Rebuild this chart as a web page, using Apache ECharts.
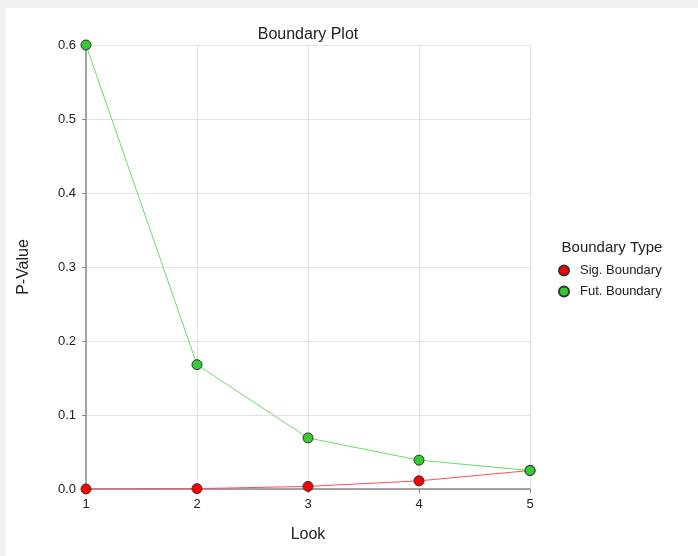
<!DOCTYPE html>
<html>
<head>
<meta charset="utf-8">
<script src="https://cdn.jsdelivr.net/npm/echarts@6/dist/echarts.min.js"></script>
<style>
html,body{margin:0;padding:0;background:#f0f0f0;width:698px;height:556px;overflow:hidden;}
#chart{position:absolute;left:6px;top:8px;width:692px;height:548px;background:#fff;}
</style>
</head>
<body>
<div id="chart"></div>
<script>
const looks = [1, 2, 3, 4, 5];
const sigValues = [0.00001, 0.0005, 0.0035, 0.011, 0.025];
const futValues = [0.600, 0.168, 0.069, 0.039, 0.025];
const yTicks = [0.0, 0.1, 0.2, 0.3, 0.4, 0.5, 0.6];

const chart = echarts.init(document.getElementById('chart'), null, {renderer: 'canvas'});
const font = 'Liberation Sans, Arial, sans-serif';
chart.setOption({
  backgroundColor: '#ffffff',
  animation: false,
  textStyle: {fontFamily: font},
  title: [
    {text: 'Boundary Plot', left: 297, top: 14, textAlign: 'center',
     textStyle: {fontFamily: font, fontSize: 16, fontWeight: 'normal', color: '#222'}},
    {text: 'Boundary Type', left: 601, top: 227, textAlign: 'center',
     textStyle: {fontFamily: font, fontSize: 15, fontWeight: 'normal', color: '#222'}}
  ],
  legend: {
    orient: 'vertical', left: 547, top: 251, itemWidth: 10, itemHeight: 10, itemGap: 8,
    icon: 'circle',
    textStyle: {fontFamily: font, fontSize: 13, color: '#222', padding: [0, 0, 0, 6]},
    data: ['Sig. Boundary', 'Fut. Boundary']
  },
  grid: {left: 80, right: 168, top: 37, bottom: 67},
  xAxis: {
    type: 'value', min: 1, max: 5, interval: 1,
    name: 'Look', nameLocation: 'middle', nameGap: 38,
    nameTextStyle: {fontFamily: font, fontSize: 16, color: '#222'},
    axisLine: {show: true, lineStyle: {color: '#888', width: 1.5}},
    axisTick: {show: true, length: 4, lineStyle: {color: '#888'}},
    axisLabel: {fontFamily: font, fontSize: 13, color: '#222', margin: 9},
    splitLine: {show: true, lineStyle: {color: '#e2e2e2', width: 1}}
  },
  yAxis: {
    type: 'value', min: 0, max: 0.6, interval: 0.1,
    name: 'P-Value', nameLocation: 'middle', nameGap: 54, nameRotate: 90,
    nameTextStyle: {fontFamily: font, fontSize: 16, color: '#222'},
    axisLine: {show: true, lineStyle: {color: '#888', width: 1.5}},
    axisTick: {show: true, length: 4, lineStyle: {color: '#888'}},
    axisLabel: {fontFamily: font, fontSize: 13, color: '#222', margin: 10,
      formatter: v => { const t = yTicks.find(x => Math.abs(x - v) < 1e-9); return (t !== undefined ? t : v).toFixed(1); }},
    splitLine: {show: true, lineStyle: {color: '#e2e2e2', width: 1}}
  },
  series: [
    {
      name: 'Sig. Boundary', type: 'line', symbol: 'circle', symbolSize: 10,
      data: looks.map((x, i) => [x, sigValues[i]]),
      lineStyle: {color: '#ff5050', width: 1},
      itemStyle: {color: '#ff0000', borderColor: '#333', borderWidth: 1},
      z: 3
    },
    {
      name: 'Fut. Boundary', type: 'line', symbol: 'circle', symbolSize: 10,
      data: looks.map((x, i) => [x, futValues[i]]),
      lineStyle: {color: '#66dd66', width: 1},
      itemStyle: {color: '#33cc33', borderColor: '#333', borderWidth: 1},
      z: 4
    }
  ]
});
</script>
</body>
</html>
